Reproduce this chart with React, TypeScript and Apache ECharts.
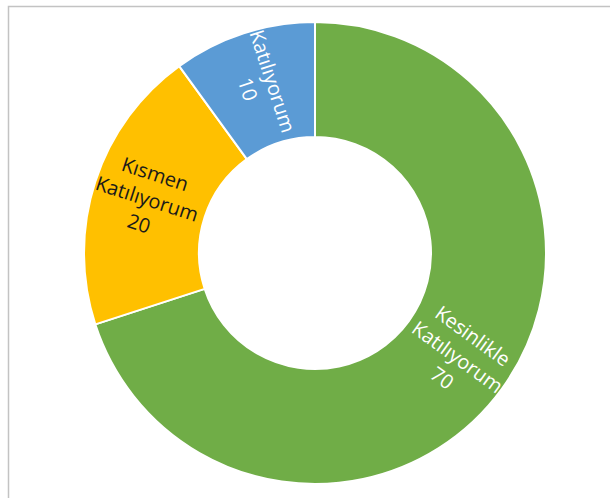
import React, { useEffect, useRef } from "react";
import * as echarts from "echarts";

const categories = ["Kesinlikle Katılıyorum", "Kısmen Katılıyorum", "Katılıyorum"];
const values = [70, 20, 10];
const colors = ["#70AD47", "#FFC000", "#5B9BD5"];
const labelColors = ["#ffffff", "#1a1a1a", "#ffffff"];
const labelTexts = ["Kesinlikle\nKatılıyorum\n70", "Kısmen\nKatılıyorum\n20", "Katılıyorum\n10"];

export default function App() {
  const ref = useRef<HTMLDivElement>(null);
  useEffect(() => {
    if (!ref.current) return;
    const chart = echarts.init(ref.current, undefined, { renderer: "svg" });
    chart.setOption({
      animation: false,
      backgroundColor: "#ffffff",
      graphic: [
        {
          type: "rect",
          shape: { x: 8.5, y: 6.5, width: 700, height: 600 },
          style: { fill: "none", stroke: "#c3c3c3", lineWidth: 1.5 },
          silent: true,
          z: -10,
        },
      ],
      series: [
        {
          type: "pie",
          center: [315, 253],
          radius: [116, 231],
          startAngle: 90,
          clockwise: true,
          avoidLabelOverlap: false,
          itemStyle: { borderColor: "#ffffff", borderWidth: 2 },
          label: {
            show: true,
            position: "inside",
            rotate: "radial",
            fontFamily: "Open Sans",
            fontSize: 20,
            lineHeight: 26,
            align: "center",
          },
          labelLine: { show: false },
          emphasis: { disabled: true },
          data: categories.map((c, i) => ({
            name: c,
            value: values[i],
            itemStyle: { color: colors[i] },
            label: { color: labelColors[i], formatter: labelTexts[i] },
          })),
        },
      ],
    });
    return () => chart.dispose();
  }, []);
  return (
    <div
      ref={ref}
      style={{ position: "absolute", left: 0, top: 0, width: 610, height: 498 }}
    />
  );
}
